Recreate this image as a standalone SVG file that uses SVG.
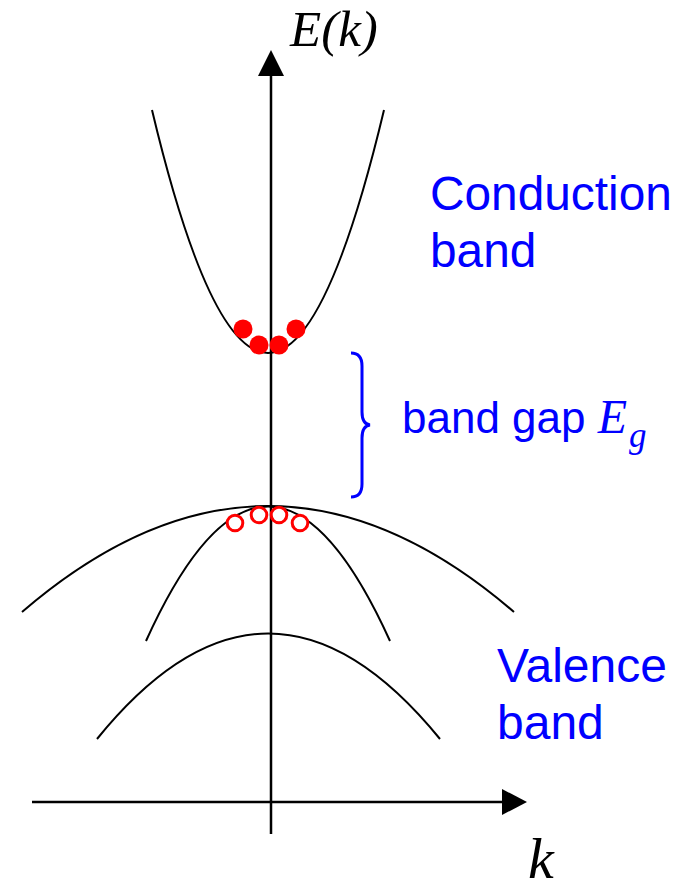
<svg xmlns="http://www.w3.org/2000/svg" width="691" height="891" viewBox="0 0 691 891">
<style>
.axis{stroke:#000;stroke-width:2.5;fill:none}
.curve{stroke:#000;stroke-width:2;fill:none}
.lbl{font-family:"Liberation Sans",Arial,sans-serif;fill:#0000FF}
.math{font-family:"Liberation Serif","Times New Roman",serif;font-style:italic;fill:#000}
.e{fill:#FF0000}
.h{fill:#fff;stroke:#FF0000;stroke-width:3}
</style>
<rect width="691" height="891" fill="#fff"/>
<g id="axes">
<line class="axis" x1="271" y1="834" x2="271" y2="74"/>
<polygon points="271,50 258,76 284,76" fill="#000"/>
<line class="axis" x1="32" y1="802" x2="504" y2="802"/>
<polygon points="527,802 502,789 502,815" fill="#000"/>
<text class="math" x="290" y="46" font-size="51">E(k)</text>
<text class="math" x="528" y="878" font-size="58">k</text>
</g>
<g id="conduction-band">
<path class="curve" d="M152,110 Q268,596 384,110"/>
<circle class="e" cx="243" cy="329" r="9.5"/>
<circle class="e" cx="259" cy="345" r="9.5"/>
<circle class="e" cx="279" cy="345" r="9.5"/>
<circle class="e" cx="296" cy="329" r="9.5"/>
<text class="lbl" x="430" y="210" font-size="47.8">Conduction</text>
<text class="lbl" x="430" y="267" font-size="47.8">band</text>
</g>
<g id="valence-band">
<path class="curve" d="M22,612 Q268,400 514,612"/>
<path class="curve" d="M146,641 Q268,372 390,641"/>
<path class="curve" d="M97,739 Q268,528 440,739"/>
<circle class="h" cx="235" cy="523" r="7.8"/>
<circle class="h" cx="259" cy="515" r="7.8"/>
<circle class="h" cx="279" cy="515" r="7.8"/>
<circle class="h" cx="300" cy="523" r="7.8"/>
<text class="lbl" x="497" y="682" font-size="48">Valence</text>
<text class="lbl" x="497" y="739" font-size="48">band</text>
</g>
<g id="band-gap">
<path d="M351,353 Q362,353 362,366 L362,412 Q362,424 370,425 Q362,426 362,438 L362,484 Q362,497 351,497" fill="none" stroke="#0000FF" stroke-width="3"/>
<text class="lbl" x="402" y="433" font-size="44">band gap <tspan font-family="'Liberation Serif','Times New Roman',serif" font-style="italic" font-size="48">E</tspan><tspan font-family="'Liberation Serif','Times New Roman',serif" font-style="italic" font-size="35" dx="2" dy="14">g</tspan></text>
</g>
</svg>
